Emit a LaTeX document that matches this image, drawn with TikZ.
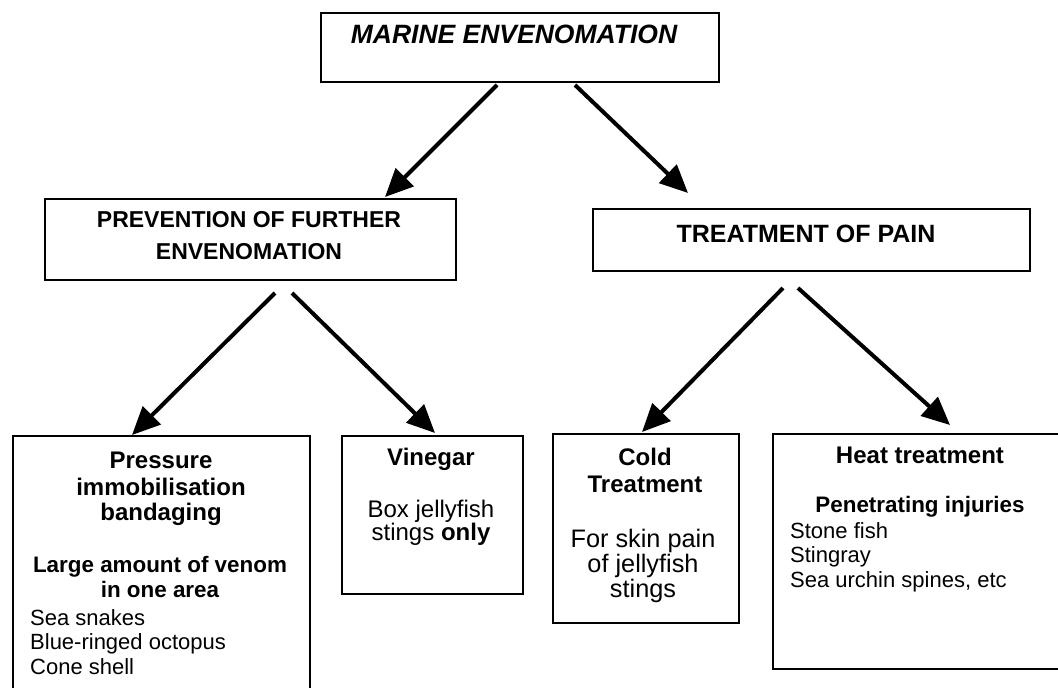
\documentclass[tikz,border=0pt]{standalone}
\usepackage{fontspec}
\setmainfont{Liberation Sans}
\usetikzlibrary{arrows.meta}
\tikzset{
  box/.style={draw=black, line width=1.6pt, fill=none, inner sep=0pt, anchor=north west},
  arr/.style={line width=4pt, -{Triangle[length=28pt,width=25pt]}},
  ln/.style={inner sep=0pt, anchor=base},
  lnl/.style={inner sep=0pt, anchor=base west},
  ftop/.style={font=\fontsize{26.5}{30}\selectfont\bfseries\itshape},
  fmid/.style={font=\fontsize{23}{28}\selectfont\bfseries},
  fmidb/.style={font=\fontsize{25}{28}\selectfont\bfseries},
  fhead/.style={font=\fontsize{24}{28}\selectfont\bfseries},
  fsub/.style={font=\fontsize{22.4}{26}\selectfont\bfseries},
  fbody/.style={font=\fontsize{24}{28}\selectfont},
  fbodyb/.style={font=\fontsize{25.3}{28}\selectfont},
  flist/.style={font=\fontsize{22}{26}\selectfont}
}
\begin{document}
\begin{tikzpicture}[x=1pt,y=-1pt]
\clip (0,0) rectangle (1058,688);
\fill[white] (0,0) rectangle (1058,688);
% boxes
\node[box, minimum width=398pt, minimum height=69pt] (top) at (320,12) {};
\node[box, minimum width=411pt, minimum height=81pt] (prev) at (44,198) {};
\node[box, minimum width=437pt, minimum height=62pt] (treat) at (592,208) {};
\node[box, minimum width=297pt, minimum height=270pt] (press) at (12,435) {};
\node[box, minimum width=181pt, minimum height=158pt] (vine) at (341,435) {};
\node[box, minimum width=186pt, minimum height=189pt] (cold) at (552,433) {};
\node[box, minimum width=300pt, minimum height=235pt] (heat) at (772,433) {};
% texts
\node[ln, ftop] (ttop) at (514,43) {MARINE ENVENOMATION};
\node[ln, fmid] (tprev1) at (249,227) {PREVENTION OF FURTHER};
\node[ln, fmid] (tprev2) at (249,259) {ENVENOMATION};
\node[ln, fmidb] (ttreat) at (806,242) {TREATMENT OF PAIN};
\node[ln, fhead] (tp1) at (161,468) {Pressure};
\node[ln, fhead] (tp2) at (161,495) {immobilisation};
\node[ln, fhead] (tp3) at (161,520) {bandaging};
\node[ln, fsub] (tp4) at (160,572) {Large amount of venom};
\node[ln, fsub] (tp5) at (160,597) {in one area};
\node[lnl, flist] (tp6) at (30,625) {Sea snakes};
\node[lnl, flist] (tp7) at (30,649) {Blue-ringed octopus};
\node[lnl, flist] (tp8) at (30,674) {Cone shell};
\node[ln, fhead] (tv1) at (431,465) {Vinegar};
\node[ln, fbody] (tv2) at (431,517) {Box jellyfish};
\node[ln, fbody] (tv3) at (431,540) {stings \textbf{only}};
\node[ln, fhead] (tc1) at (645,465) {Cold};
\node[ln, fhead] (tc2) at (645,492) {Treatment};
\node[ln, fbodyb] (tc3) at (643,547) {For skin pain};
\node[ln, fbodyb] (tc4) at (643,572) {of jellyfish};
\node[ln, fbodyb] (tc5) at (643,597) {stings};
\node[ln, fhead] (th1) at (920,463) {Heat treatment};
\node[ln, fsub] (th2) at (920,512) {Penetrating injuries};
\node[lnl, flist] (th3) at (790,538) {Stone fish};
\node[lnl, flist] (th4) at (790,562) {Stingray};
\node[lnl, flist] (th5) at (790,587) {Sea urchin spines, etc};
% arrow ends
\coordinate (a1s) at (497,85);
\coordinate (a1e) at (385,197);
\coordinate (a2s) at (575,85);
\coordinate (a2e) at (688,193);
\coordinate (a3s) at (275,293);
\coordinate (a3e) at (132,435);
\coordinate (a4s) at (292,293);
\coordinate (a4e) at (435,433);
\coordinate (a5s) at (783,288);
\coordinate (a5e) at (642,432);
\coordinate (a6s) at (798,288);
\coordinate (a6e) at (950,425);
\draw[arr] (a1s) -- (a1e);
\draw[arr] (a2s) -- (a2e);
\draw[arr] (a3s) -- (a3e);
\draw[arr] (a4s) -- (a4e);
\draw[arr] (a5s) -- (a5e);
\draw[arr] (a6s) -- (a6e);
\end{tikzpicture}
\end{document}
